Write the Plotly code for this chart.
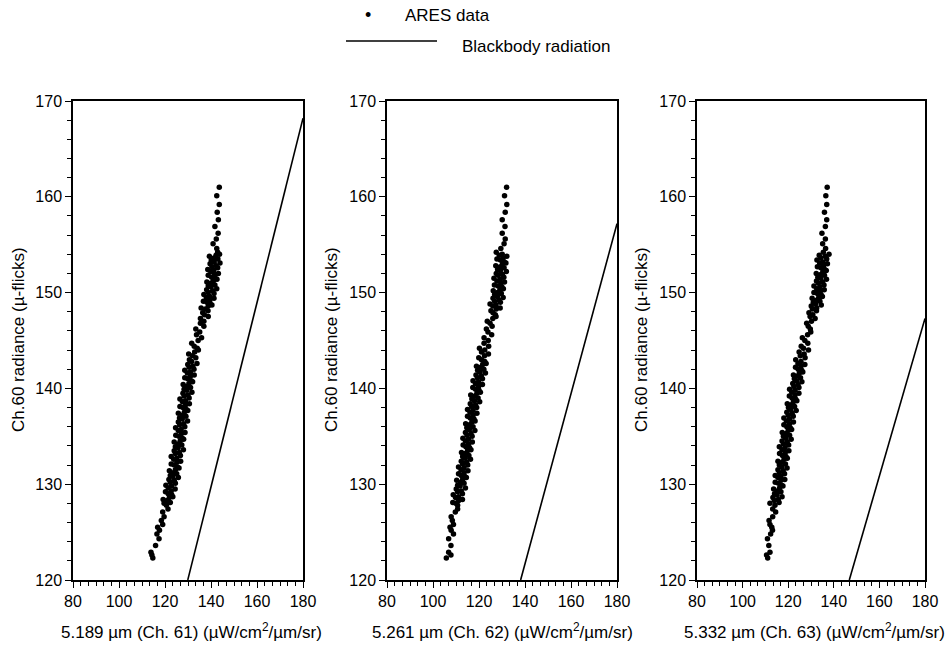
import plotly.graph_objects as go

# Ch.60 radiance (shared y values for all three panels)
ch60 = [
    # sparse low end
    122.3, 122.6, 122.9, 123.6, 124.3, 124.8, 125.2, 125.5, 125.8, 126.2, 126.6, 127.1, 127.4, 127.8,
    # dense main band
    128.0, 128.1, 128.3, 128.4, 128.6, 128.7, 128.9, 129.0, 129.2, 129.3, 129.5, 129.6, 129.8, 129.9, 130.1, 130.2, 130.4, 130.5, 130.7, 130.8,
    130.9, 131.1, 131.2, 131.4, 131.5, 131.7, 131.8, 132.0, 132.1, 132.3, 132.4, 132.6, 132.7, 132.9, 133.0, 133.2, 133.3, 133.5, 133.6, 133.8,
    133.9, 134.1, 134.2, 134.4, 134.5, 134.7, 134.8, 135.0, 135.1, 135.3, 135.4, 135.6, 135.7, 135.9, 136.0, 136.2, 136.3, 136.5, 136.6, 136.8,
    136.9, 137.1, 137.2, 137.4, 137.5, 137.7, 137.8, 138.0, 138.1, 138.3, 138.4, 138.6, 138.7, 138.9, 139.0, 139.2, 139.3, 139.5, 139.6, 139.8,
    139.9, 140.1, 140.2, 140.4, 140.5, 140.7, 140.8, 141.0, 141.1, 141.3, 141.4, 141.6, 141.7, 141.9, 142.0, 142.2, 142.3, 142.5, 142.6, 142.8,
    143.0, 143.2, 143.4, 143.6, 143.8, 144.0, 144.2, 144.4, 144.7, 145.0,
    # sparse gap
    145.3, 145.6, 145.9, 146.2, 146.5, 146.8, 147.0, 147.3, 147.5, 147.7, 147.9, 148.1,
    # dense upper cluster
    148.3, 148.4, 148.6, 148.7, 148.8, 149.0, 149.1, 149.2, 149.4, 149.5, 149.6, 149.8, 149.9, 150.0, 150.2,
    150.3, 150.4, 150.6, 150.7, 150.8, 151.0, 151.1, 151.2, 151.4, 151.5, 151.6, 151.8, 151.9, 152.0, 152.2,
    152.3, 152.4, 152.6, 152.7, 152.8, 153.0, 153.1, 153.2, 153.4, 153.5, 153.6, 153.8, 153.9, 154.0, 154.2,
    # sparse top
    154.6, 155.1, 155.6, 156.2, 156.9, 157.6, 158.4, 159.2, 160.1, 161.0]

# 5.189 um (Ch. 61) radiance
ch61 = [
    114.7, 114.3, 113.9, 115.9, 117.4, 116.5, 117.6, 116.8, 119.0, 118.4, 119.6, 119.0, 121.3, 120.6,
    119.6, 122.3, 120.9, 119.2, 121.9, 123.4, 122.9, 121.4, 120.2, 122.7, 124.4, 121.4, 122.8, 120.4, 124.5, 122.3, 124.0, 121.7, 125.8, 123.4,
    122.3, 125.1, 123.6, 121.9, 124.5, 126.1, 125.4, 124.0, 122.7, 125.2, 126.8, 123.8, 125.1, 122.7, 126.7, 124.5, 126.2, 124.0, 128.0, 125.7,
    124.5, 127.3, 125.7, 124.0, 126.6, 128.1, 127.5, 126.0, 124.7, 127.2, 128.7, 125.8, 127.0, 124.6, 128.6, 126.4, 128.1, 125.8, 129.8, 127.5,
    126.3, 129.1, 127.5, 125.8, 128.4, 129.9, 129.3, 127.8, 126.5, 129.0, 130.6, 127.6, 128.9, 126.5, 130.5, 128.3, 130.0, 127.8, 131.7, 129.5,
    128.3, 131.1, 129.5, 127.9, 130.4, 132.0, 131.4, 129.9, 128.6, 131.1, 132.7, 129.7, 131.0, 128.6, 132.6, 130.5, 132.1, 129.9, 133.9, 131.6,
    130.6, 133.4, 131.9, 130.3, 132.9, 134.5, 134.0, 132.7, 131.6, 134.4,
    135.9, 133.7, 135.1, 133.4, 136.9, 135.4, 136.9, 135.4, 138.8, 137.1, 136.4, 138.7,
    137.6, 135.7, 138.8, 140.4, 139.7, 138.2, 136.7, 139.5, 141.3, 138.0, 139.4, 136.9, 141.3, 138.8, 140.7,
    138.1, 142.5, 140.0, 138.8, 141.7, 140.1, 138.2, 141.0, 142.6, 141.9, 140.3, 138.8, 141.5, 143.2, 139.9,
    141.2, 138.6, 142.9, 140.4, 142.2, 139.6, 143.9, 141.4, 140.1, 143.0, 141.3, 139.3, 142.2, 143.7, 142.9,
    142.5, 140.9, 142.3, 143.1, 141.7, 143.2, 142.7, 143.6, 142.5, 143.6]

# 5.261 um (Ch. 62) radiance
ch62 = [
    105.8, 107.8, 106.8, 107.8, 106.8, 108.9, 107.9, 107.4, 108.9, 108.4, 107.9, 109.7, 110.7, 110.7,
    109.9, 108.6, 111.2, 112.8, 109.8, 111.1, 108.8, 112.8, 110.7, 112.3, 110.1, 114.1, 111.8, 110.7, 113.5, 112.0, 110.3, 112.9, 114.5, 113.8,
    112.3, 111.1, 113.5, 115.2, 112.2, 113.5, 111.1, 115.1, 112.9, 114.6, 112.3, 116.3, 114.0, 112.9, 115.6, 114.1, 112.4, 115.0, 116.5, 115.9,
    114.3, 113.1, 115.5, 117.1, 114.1, 115.4, 113.0, 117.0, 114.8, 116.5, 114.1, 118.2, 115.8, 114.7, 117.4, 115.9, 114.2, 116.9, 118.3, 117.8,
    116.2, 115.0, 117.4, 119.1, 116.1, 117.4, 115.0, 119.0, 116.8, 118.5, 116.2, 120.3, 118.0, 116.9, 119.6, 118.2, 116.4, 119.1, 120.6, 120.0,
    118.5, 117.3, 119.8, 121.5, 118.5, 119.8, 117.4, 121.5, 119.3, 121.0, 118.7, 122.8, 120.5, 119.4, 122.1, 120.7, 118.9, 121.6, 123.1, 122.5,
    121.1, 119.9, 122.4, 124.1, 121.1, 122.5, 120.2, 124.2, 122.2, 124.0,
    122.2, 125.5, 123.9, 123.2, 125.7, 124.8, 123.6, 126.0, 127.4, 127.1, 126.1, 125.2,
    127.5, 129.2, 126.0, 127.4, 124.8, 129.3, 126.8, 128.7, 126.1, 130.5, 128.0, 126.8, 129.7, 128.1, 126.2,
    129.1, 130.6, 129.9, 128.3, 126.7, 129.5, 131.1, 127.8, 129.2, 126.5, 130.8, 128.3, 130.2, 127.5, 131.9,
    129.3, 128.1, 130.9, 129.3, 127.3, 130.2, 131.7, 131.0, 129.3, 127.8, 130.5, 132.1, 128.8, 130.1, 127.5,
    129.5, 130.9, 131.4, 130.1, 131.3, 130.1, 131.4, 132.1, 131.1, 132.0]

# 5.332 um (Ch. 63) radiance
ch63 = [
    111.0, 110.5, 112.0, 111.5, 110.9, 112.3, 113.1, 112.8, 112.0, 111.6, 113.2, 114.5, 113.2, 114.2,
    112.0, 116.0, 113.9, 115.6, 113.3, 117.3, 115.1, 114.0, 116.8, 115.2, 113.6, 116.2, 117.7, 117.1, 115.7, 114.3, 116.9, 118.5, 115.5, 116.8,
    114.3, 118.4, 116.1, 117.8, 115.5, 119.5, 117.2, 116.1, 118.8, 117.3, 115.5, 118.2, 119.6, 119.0, 117.5, 116.2, 118.7, 120.3, 117.3, 118.6,
    116.1, 120.2, 117.9, 119.6, 117.3, 121.3, 119.0, 117.9, 120.6, 119.1, 117.4, 120.0, 121.5, 120.9, 119.4, 118.1, 120.6, 122.3, 119.2, 120.6,
    118.1, 122.2, 120.0, 121.7, 119.4, 123.5, 121.1, 120.1, 122.8, 121.3, 119.6, 122.3, 123.8, 123.2, 121.7, 120.5, 123.0, 124.7, 121.6, 123.0,
    120.6, 124.7, 122.5, 124.3, 122.0, 126.0, 123.7, 122.7, 125.4, 124.0, 122.3, 124.9, 126.4, 125.9, 124.4, 123.2, 125.6, 127.3, 124.3, 125.6,
    123.3, 127.4, 125.3, 127.0, 124.8, 128.9, 126.7, 125.7, 128.6, 127.3,
    126.2, 128.5, 129.9, 129.7, 128.8, 128.1, 130.2, 131.8, 129.6, 130.8, 129.1, 132.4,
    130.6, 132.5, 130.1, 134.5, 132.0, 131.0, 133.9, 132.3, 130.5, 133.4, 135.0, 134.4, 132.8, 131.3, 134.1,
    135.8, 132.5, 133.9, 131.3, 135.7, 133.2, 135.1, 132.4, 136.8, 134.3, 133.0, 135.9, 134.3, 132.3, 135.2,
    136.7, 136.0, 134.3, 132.8, 135.5, 137.2, 133.8, 135.2, 132.6, 136.9, 134.3, 136.2, 133.6, 137.9, 135.4,
    136.4, 135.1, 136.3, 134.8, 136.3, 136.9, 135.9, 136.9, 136.5, 137.1]

# Blackbody radiation lines (end points)
bb61_x = [129.9, 180.0]
bb61_y = [120.0, 168.2]
bb62_x = [138.1, 180.0]
bb62_y = [120.0, 157.2]
bb63_x = [146.8, 180.0]
bb63_y = [120.0, 147.3]

xtitles = ["5.189 µm (Ch. 61) (µW/cm<sup>2</sup>/µm/sr)",
           "5.261 µm (Ch. 62) (µW/cm<sup>2</sup>/µm/sr)",
           "5.332 µm (Ch. 63) (µW/cm<sup>2</sup>/µm/sr)"]
ytitle = "Ch.60 radiance (µ-flicks)"

W, H = 945, 646
FONT = "Liberation Sans, Arial, Helvetica, sans-serif"


def px_x(p):
    return p / W


def px_y(p):
    return 1 - p / H


fig = go.Figure()
xs = [ch61, ch62, ch63]
bbx = [bb61_x, bb62_x, bb63_x]
bby = [bb61_y, bb62_y, bb63_y]
for i in range(3):
    xa = "x" if i == 0 else f"x{i+1}"
    ya = "y" if i == 0 else f"y{i+1}"
    fig.add_trace(go.Scatter(x=bbx[i], y=bby[i], mode="lines", xaxis=xa, yaxis=ya,
                             line=dict(color="black", width=1.6), showlegend=False,
                             hoverinfo="skip"))
    fig.add_trace(go.Scatter(x=xs[i], y=ch60, mode="markers", xaxis=xa, yaxis=ya,
                             marker=dict(color="black", size=5.5, line=dict(width=0)),
                             showlegend=False))

# pixel layout of plot areas (screen pixels)
px_left = [73, 387, 697]
px_right = [303, 617, 925]
top_px, bot_px = 101, 580

axis_common = dict(showline=True, linecolor="black", linewidth=1.5, mirror=True,
                   ticks="outside", ticklen=6, tickwidth=1.2, tickcolor="black",
                   showgrid=False, zeroline=False, automargin=False,
                   tickfont=dict(family=FONT, size=16, color="black"))

layout = dict(width=W, height=H, margin=dict(l=0, r=0, t=0, b=0, autoexpand=False),
              paper_bgcolor="white", plot_bgcolor="white", showlegend=False,
              hovermode=False,
              font=dict(family=FONT, color="black"))
for i in range(3):
    xk = "xaxis" if i == 0 else f"xaxis{i+1}"
    yk = "yaxis" if i == 0 else f"yaxis{i+1}"
    xa = "x" if i == 0 else f"x{i+1}"
    ya = "y" if i == 0 else f"y{i+1}"
    layout[xk] = dict(axis_common, domain=[px_x(px_left[i]), px_x(px_right[i])],
                      range=[80, 180], tickmode="linear", tick0=80, dtick=20,
                      anchor=ya,
                      minor=dict(ticks="outside", ticklen=4, tickwidth=1, tickcolor="black",
                                 tick0=80, dtick=20 / 6))
    layout[yk] = dict(axis_common, domain=[px_y(bot_px), px_y(top_px)],
                      range=[120, 170], tickmode="linear", tick0=120, dtick=10,
                      anchor=xa,
                      minor=dict(ticks="outside", ticklen=4, tickwidth=1, tickcolor="black",
                                 tick0=120, dtick=2))
fig.update_layout(**layout)

ann = []
ytitle_x = [18, 331, 641]
xtitle_cx = [191, 503, 814]
for i in range(3):
    ann.append(dict(x=px_x(ytitle_x[i]), y=px_y(340), xref="paper", yref="paper",
                    text=ytitle, textangle=-90, showarrow=False,
                    font=dict(family=FONT, size=17, color="black"),
                    xanchor="center", yanchor="middle"))
    ann.append(dict(x=px_x(xtitle_cx[i]), y=px_y(631), xref="paper", yref="paper",
                    text=xtitles[i], showarrow=False,
                    font=dict(family=FONT, size=17, color="black"),
                    xanchor="center", yanchor="middle"))
# legend (drawn manually)
ann.append(dict(x=px_x(368), y=px_y(15), xref="paper", yref="paper", text="•",
                showarrow=False, font=dict(family=FONT, size=18, color="black"),
                xanchor="center", yanchor="middle"))
ann.append(dict(x=px_x(403), y=px_y(15), xref="paper", yref="paper", text="ARES data",
                showarrow=False, font=dict(family=FONT, size=17, color="black"),
                xanchor="left", yanchor="middle"))
ann.append(dict(x=px_x(460), y=px_y(47), xref="paper", yref="paper",
                text="Blackbody radiation", showarrow=False,
                font=dict(family=FONT, size=17, color="black"),
                xanchor="left", yanchor="middle"))
fig.update_layout(annotations=ann,
                  shapes=[dict(type="line", xref="paper", yref="paper",
                               x0=px_x(346), x1=px_x(437), y0=px_y(41), y1=px_y(41),
                               line=dict(color="black", width=1.5))])

# remove the default page margin so the figure sits at the window origin
fig.write_html("out.html", config={"displayModeBar": False},
               post_script="document.body.style.margin='0px';document.body.style.overflow='hidden';")
